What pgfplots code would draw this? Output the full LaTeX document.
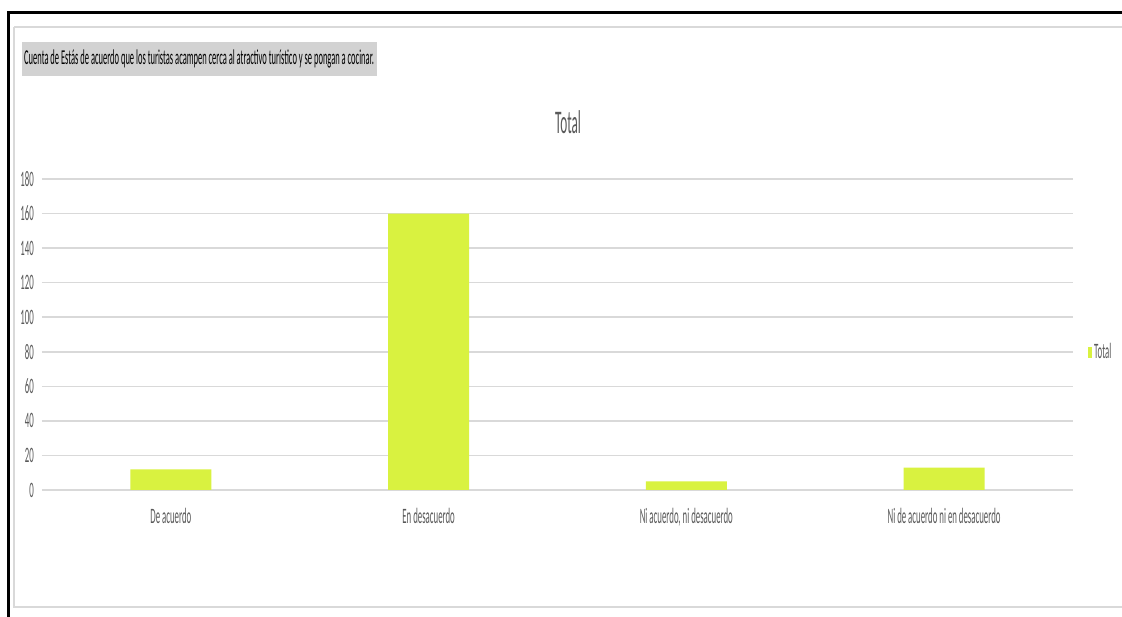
\documentclass[border=0pt]{standalone}
\usepackage{pgfplots}
\pgfplotsset{compat=1.18}
\usepackage{fontspec}
\setmainfont{Carlito}[FakeStretch=0.4]
\definecolor{barlime}{RGB}{217,242,64}
\definecolor{txtgray}{RGB}{89,89,89}
\definecolor{gridgray}{RGB}{217,217,217}
\definecolor{boxgray}{RGB}{210,210,210}
\begin{document}
\begin{tikzpicture}[x=1pt,y=1pt]
\useasboundingbox (0,0) rectangle (1122,617);
\fill[white] (0,0) rectangle (1122,617);
% frame of the screenshot
\draw[gridgray, line width=1.5pt] (14,590) -- (14,10) -- (1122,10);
\draw[gridgray, line width=1.5pt] (14,590) -- (1122,590);
\draw[black, line width=3.6pt] (8.5,0) -- (8.5,604.5) -- (1122,604.5);
% pivot field button
\fill[boxgray] (22,541) rectangle (377,575);
\node[anchor=west, inner sep=0pt, font=\fontsize{21.2}{23}\selectfont]
  at (24,558) {Cuenta de Estás de acuerdo que los turistas acampen cerca al atractivo turístico y se pongan a cocinar.};
% chart title
\node[txtgray, font=\fontsize{33}{36}\selectfont] at (568,495) {Total};
\begin{axis}[
    at={(42pt,127pt)}, anchor=south west,
    scale only axis,
    width=1031pt, height=311pt,
    xmin=-0.5, xmax=3.5,
    ymin=0, ymax=180,
    ytick={0,20,...,180},
    xtick={0,1,2,3},
    xticklabels={De acuerdo, En desacuerdo, {Ni acuerdo, ni desacuerdo}, Ni de acuerdo ni en desacuerdo},
    ymajorgrids,
    major grid style={gridgray, line width=1.5pt},
    axis line style={draw=none},
    major tick length=0pt,
    tick style={draw=none},
    /pgf/number format/assume math mode=true,
    ticklabel style={txtgray, font=\fontsize{22}{24}\selectfont},
    yticklabel style={inner sep=0pt, xshift=-8pt},
    xticklabel style={inner sep=0pt, anchor=north, yshift=-18pt},
    legend style={at={(axis description cs:1.0146,0.4437)}, anchor=west,
        draw=none, fill=none, inner sep=0pt, text=txtgray,
        font=\fontsize{22}{24}\selectfont},
    legend image code/.code={\fill[barlime] (0pt,-5.5pt) rectangle (4pt,5.5pt);},
    clip=false,
]
\addplot[ybar, bar width=81pt, bar shift=0pt, fill=barlime, draw=none]
    coordinates {(0,12) (1,160) (2,5) (3,13)};
\addlegendentry{Total}
\end{axis}
\end{tikzpicture}
\end{document}
